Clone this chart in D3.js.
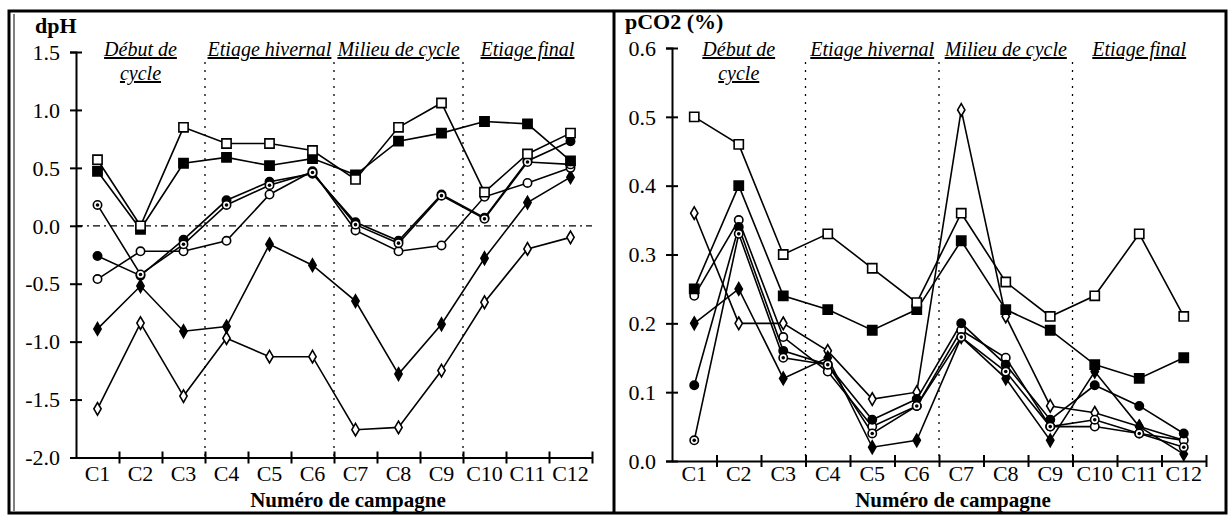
<!DOCTYPE html>
<html>
<head>
<meta charset="utf-8">
<script src="https://cdn.jsdelivr.net/npm/d3@7"></script>
<style>
  body { margin: 0; background: #fff; }
  svg text { font-family: "Liberation Serif", "Times New Roman", serif; fill: #000; }
</style>
</head>
<body>
<div id="chart"></div>
<script>
const categories = ["C1","C2","C3","C4","C5","C6","C7","C8","C9","C10","C11","C12"];

// periods: first and last campaign of each period + label lines
const periodStarts = ["C1","C4","C7","C10"];
const periodEnds = ["C3","C6","C9","C12"];
const periodLabels = [["Début de","cycle"],["Etiage hivernal"],["Milieu de cycle"],["Etiage final"]];

// dpH panel
const dphTicks = [1.5, 1.0, 0.5, 0.0, -0.5, -1.0, -1.5, -2.0];
const dphTickLabels = ["1.5","1.0","0.5","0.0","-0.5","-1.0","-1.5","-2.0"];
const dphOpenSquare    = [0.57, 0.00, 0.85, 0.71, 0.71, 0.65, 0.40, 0.85, 1.06, 0.29, 0.62, 0.80];
const dphFilledSquare  = [0.47, -0.03, 0.54, 0.59, 0.52, 0.58, 0.44, 0.73, 0.80, 0.90, 0.88, 0.56];
const dphCircleDot     = [0.18, -0.42, -0.16, 0.18, 0.35, 0.46, 0.01, -0.15, 0.26, 0.06, 0.55, 0.53];
const dphFilledCircle  = [-0.26, -0.43, -0.12, 0.22, 0.38, 0.45, 0.03, -0.13, 0.27, 0.07, 0.56, 0.73];
const dphOpenCircle    = [-0.46, -0.22, -0.22, -0.13, 0.27, 0.47, -0.04, -0.22, -0.17, 0.25, 0.37, 0.50];
const dphFilledDiamond = [-0.89, -0.52, -0.91, -0.87, -0.16, -0.34, -0.65, -1.28, -0.85, -0.28, 0.20, 0.42];
const dphOpenDiamond   = [-1.58, -0.84, -1.47, -0.97, -1.13, -1.13, -1.76, -1.74, -1.25, -0.66, -0.20, -0.10];

// pCO2 panel
const co2Ticks = [0.6, 0.5, 0.4, 0.3, 0.2, 0.1, 0.0];
const co2TickLabels = ["0.6","0.5","0.4","0.3","0.2","0.1","0.0"];
const co2OpenSquare    = [0.50, 0.46, 0.30, 0.33, 0.28, 0.23, 0.36, 0.26, 0.21, 0.24, 0.33, 0.21];
const co2FilledSquare  = [0.25, 0.40, 0.24, 0.22, 0.19, 0.22, 0.32, 0.22, 0.19, 0.14, 0.12, 0.15];
const co2CircleDot     = [0.03, 0.33, 0.15, 0.14, 0.04, 0.08, 0.18, 0.13, 0.05, 0.06, 0.04, 0.02];
const co2FilledCircle  = [0.11, 0.34, 0.16, 0.14, 0.06, 0.09, 0.20, 0.14, 0.06, 0.11, 0.08, 0.04];
const co2OpenCircle    = [0.24, 0.35, 0.18, 0.13, 0.05, 0.08, 0.19, 0.15, 0.05, 0.05, 0.04, 0.03];
const co2FilledDiamond = [0.20, 0.25, 0.12, 0.15, 0.02, 0.03, 0.18, 0.12, 0.03, 0.13, 0.05, 0.01];
const co2OpenDiamond   = [0.36, 0.20, 0.20, 0.16, 0.09, 0.10, 0.51, 0.21, 0.08, 0.07, 0.05, 0.03];

const FONT = "'Liberation Serif', 'Times New Roman', serif";
const W = 1229, H = 516;
const svg = d3.select("#chart").append("svg")
    .attr("width", W).attr("height", H);
svg.append("rect").attr("width", W).attr("height", H).attr("fill", "#fff");

// frame
svg.append("rect").attr("x", 9).attr("y", 11).attr("width", 1217).attr("height", 502)
    .attr("fill", "none").attr("stroke", "#000").attr("stroke-width", 3);
svg.append("line").attr("x1", 614).attr("x2", 614).attr("y1", 11).attr("y2", 513)
    .attr("stroke", "#000").attr("stroke-width", 3);
svg.append("line").attr("x1", 14).attr("x2", 14).attr("y1", 14).attr("y2", 511)
    .attr("stroke", "#000").attr("stroke-width", 1);

function drawPanel(cfg) {
    const g = svg.append("g");
    const x = d3.scaleBand().domain(categories).range([cfg.left, cfg.right]);
    const xEdge = d3.scaleLinear().domain([0, categories.length]).range([cfg.left, cfg.right]);
    const y = d3.scaleLinear().domain(cfg.domain).range([cfg.bottom, cfg.top]);
    const cx = c => x(c) + x.bandwidth() / 2;

    // period separators
    periodStarts.slice(1).forEach(c => {
        const px = x(c);
        g.append("line").attr("x1", px).attr("x2", px)
            .attr("y1", 62).attr("y2", cfg.bottom)
            .attr("stroke", "#000").attr("stroke-width", 1.3)
            .attr("stroke-dasharray", "2,6");
    });

    // zero reference
    if (cfg.domain[0] < 0) {
        g.append("line").attr("x1", cfg.left).attr("x2", cfg.right)
            .attr("y1", y(0)).attr("y2", y(0))
            .attr("stroke", "#000").attr("stroke-width", 1.3)
            .attr("stroke-dasharray", "7,4,2,4");
    }

    // period labels
    periodLabels.forEach((lines, i) => {
        const mid = (x(periodStarts[i]) + x(periodEnds[i]) + x.bandwidth()) / 2;
        lines.forEach((t, j) => {
            g.append("text").attr("x", mid).attr("y", 56 + j * 24)
                .attr("text-anchor", "middle")
                .attr("font-family", FONT)
                .style("font-style", "italic")
                .style("font-size", "20px")
                .style("text-decoration", "underline")
                .text(t);
        });
    });

    // y axis
    const yAxis = g.append("g").attr("transform", `translate(${cfg.left},0)`)
        .call(d3.axisLeft(y).tickValues(cfg.ticks)
            .tickFormat((d, i) => cfg.tickLabels[i]).tickSize(6).tickPadding(10));
    yAxis.attr("font-family", FONT);
    yAxis.select(".domain").attr("stroke-width", 2);
    yAxis.selectAll(".tick line").attr("x1", 6).attr("x2", -6).attr("stroke-width", 2);
    yAxis.selectAll(".tick text").style("font-size", "22px")
        .style("font-family", FONT).attr("dy", "0.33em");

    // x axis: ticks at campaign boundaries
    const xAxis = g.append("g").attr("transform", `translate(0,${cfg.bottom})`)
        .call(d3.axisBottom(xEdge).tickValues(d3.range(1, categories.length + 1))
            .tickFormat("").tickSize(6).tickSizeOuter(0));
    xAxis.select(".domain").attr("stroke-width", 2);
    xAxis.selectAll(".tick line").attr("y1", -6).attr("y2", 6).attr("stroke-width", 2);

    categories.forEach(c => {
        g.append("text")
            .attr("x", cx(c)).attr("y", 481)
            .attr("text-anchor", "middle")
            .attr("font-family", FONT)
            .style("font-size", "22px")
            .text(c);
    });

    g.append("text").attr("x", (cfg.left + cfg.right) / 2 + 14).attr("y", 507)
        .attr("text-anchor", "middle")
        .attr("font-family", FONT)
        .style("font-size", "21px").style("font-weight", "bold")
        .text("Numéro de campagne");

    g.append("text").attr("x", cfg.titleX).attr("y", cfg.titleY)
        .attr("font-family", FONT)
        .style("font-size", "22px").style("font-weight", "bold")
        .text(cfg.title);

    // series lines
    const line = d3.line().x((d, i) => cx(categories[i])).y(d => y(d));
    cfg.series.forEach(s => {
        g.append("path").datum(s.values).attr("d", line)
            .attr("fill", "none").attr("stroke", "#000").attr("stroke-width", 1.6);
    });

    // markers
    const shapes = {
        square: d3.symbol().type(d3.symbolSquare).size(85),
        circle: d3.symbol().type(d3.symbolCircle).size(55),
        diamond: d3.symbol().type(d3.symbolDiamond).size(46)
    };
    cfg.series.forEach(s => {
        s.values.forEach((v, i) => {
            const px = cx(categories[i]), py = y(v);
            g.append("path").attr("d", shapes[s.shape]())
                .attr("transform", `translate(${px},${py})`)
                .attr("fill", s.filled ? "#000" : "#fff")
                .attr("stroke", "#000").attr("stroke-width", 1.6);
            if (s.dot) {
                g.append("circle").attr("cx", px).attr("cy", py).attr("r", 1.8).attr("fill", "#000");
            }
        });
    });
}

drawPanel({
    left: 76, right: 592, top: 52, bottom: 457.5,
    domain: [-2, 1.5], ticks: dphTicks, tickLabels: dphTickLabels,
    title: "dpH", titleX: 35, titleY: 33,
    series: [
        {values: dphOpenDiamond, shape: "diamond", filled: false},
        {values: dphFilledDiamond, shape: "diamond", filled: true},
        {values: dphOpenCircle, shape: "circle", filled: false},
        {values: dphFilledCircle, shape: "circle", filled: true},
        {values: dphCircleDot, shape: "circle", filled: false, dot: true},
        {values: dphFilledSquare, shape: "square", filled: true},
        {values: dphOpenSquare, shape: "square", filled: false}
    ]
});

drawPanel({
    left: 672, right: 1206, top: 48, bottom: 461,
    domain: [0, 0.6], ticks: co2Ticks, tickLabels: co2TickLabels,
    title: "pCO2 (%)", titleX: 625, titleY: 29,
    series: [
        {values: co2OpenDiamond, shape: "diamond", filled: false},
        {values: co2FilledDiamond, shape: "diamond", filled: true},
        {values: co2OpenCircle, shape: "circle", filled: false},
        {values: co2FilledCircle, shape: "circle", filled: true},
        {values: co2CircleDot, shape: "circle", filled: false, dot: true},
        {values: co2FilledSquare, shape: "square", filled: true},
        {values: co2OpenSquare, shape: "square", filled: false}
    ]
});
</script>
</body>
</html>
